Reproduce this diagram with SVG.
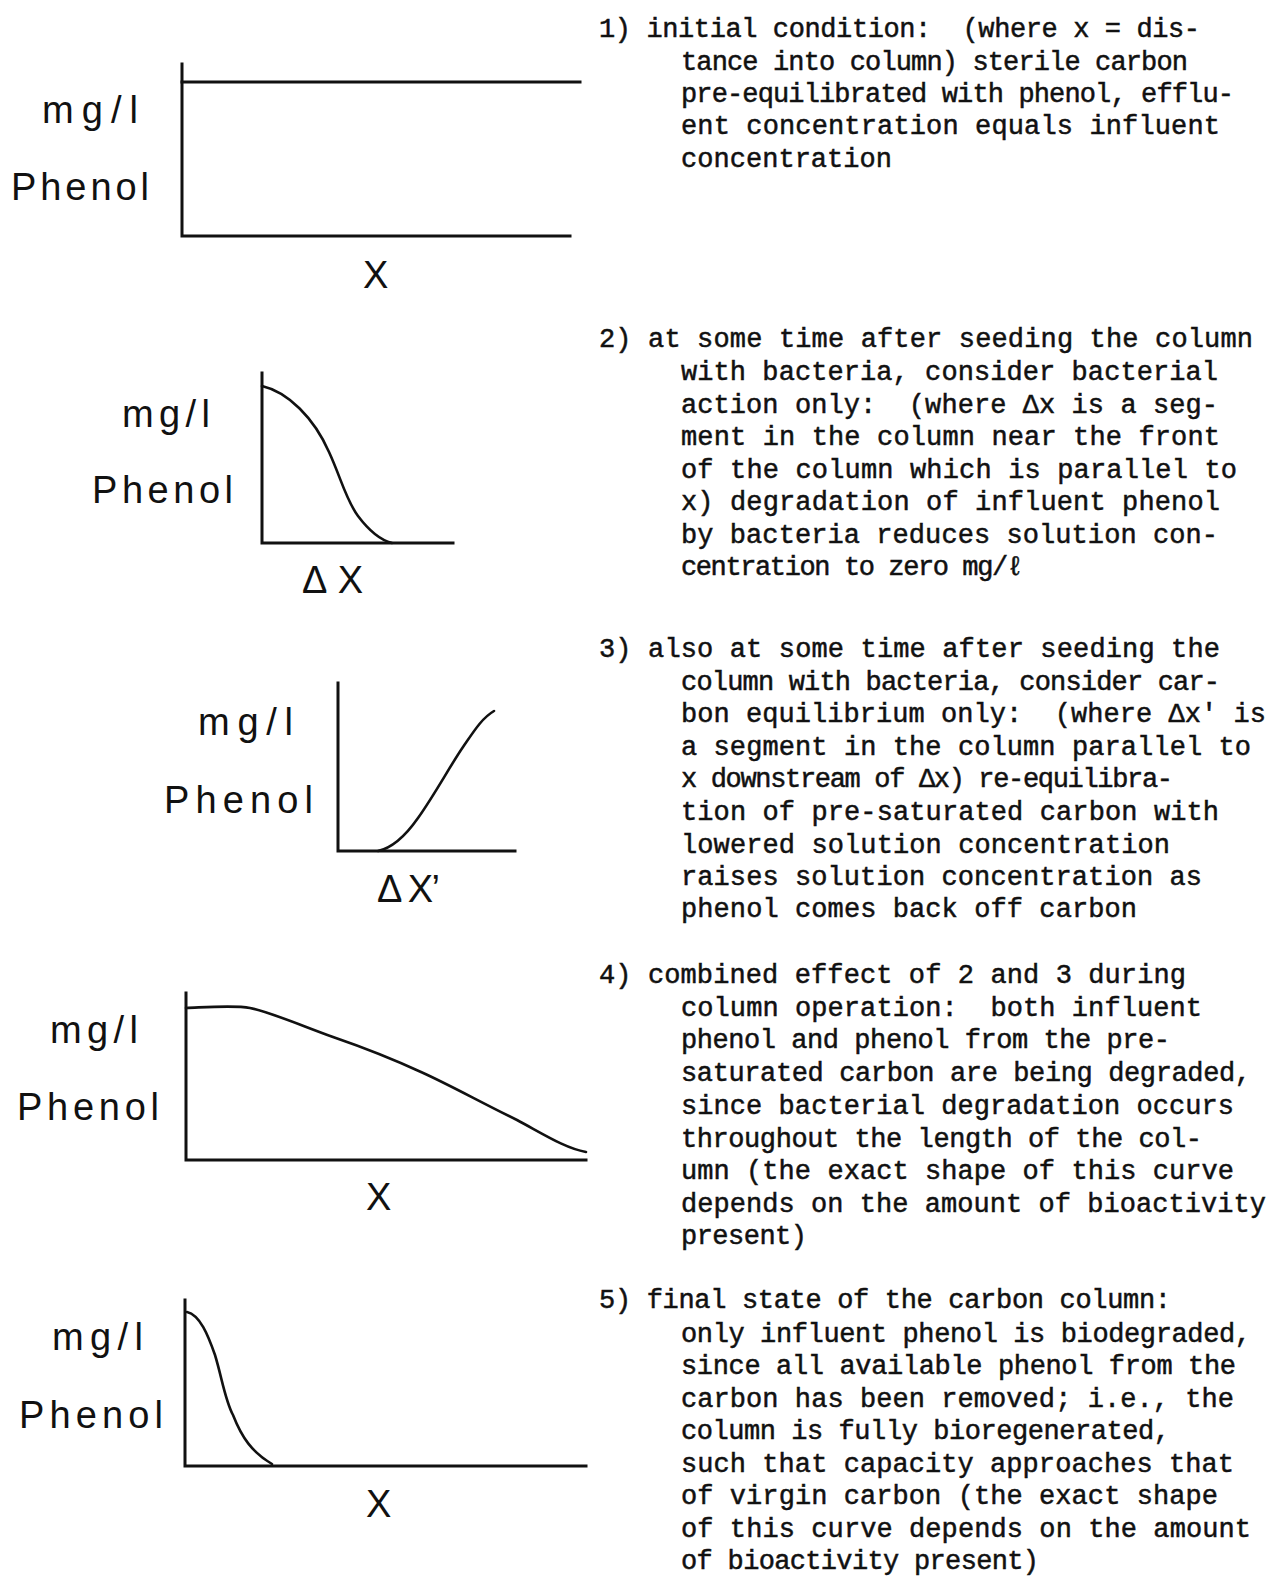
<svg xmlns="http://www.w3.org/2000/svg" width="1269" height="1576" viewBox="0 0 1269 1576">
<style>
.ax{fill:none;stroke:#111;stroke-width:3;stroke-linecap:square}
.cv{fill:none;stroke:#111;stroke-width:2.6;stroke-linecap:round}
.lb{font-family:"Liberation Sans",Arial,sans-serif;font-size:38px;fill:#111}
.tx{font-family:"Liberation Mono","Courier New","DejaVu Sans Mono",monospace;font-size:27px;fill:#111;stroke:#111;stroke-width:0.5;white-space:pre}
</style>
<rect width="1269" height="1576" fill="#fff"/>

<g id="graph1">
<path class="ax" d="M182,64 V236 H570"/>
<path class="ax" d="M182,82 H580"/>
<text class="lb" x="42" y="123" textLength="96" lengthAdjust="spacing">mg/l</text>
<text class="lb" x="11" y="200" textLength="138" lengthAdjust="spacing">Phenol</text>
<text class="lb" x="363" y="288">X</text>
</g>

<g id="graph2">
<path class="ax" d="M262,373 V543 H453"/>
<path class="cv" d="M262,386 C288,392 314,418 329,452 C341,478 346,500 358,516 C370,532 380,540 392,543"/>
<text class="lb" x="122" y="427" textLength="88" lengthAdjust="spacing">mg/l</text>
<text class="lb" x="92" y="503" textLength="141" lengthAdjust="spacing">Phenol</text>
<text class="lb" x="302" y="593" textLength="61" lengthAdjust="spacing">Δ X</text>
</g>

<g id="graph3">
<path class="ax" d="M338,683 V851 H515"/>
<path class="cv" d="M378,851 C392,848 404,838 418,818 C435,794 450,766 463,747 C474,731 482,718 494,711"/>
<text class="lb" x="198" y="735" textLength="95" lengthAdjust="spacing">mg/l</text>
<text class="lb" x="164" y="813" textLength="149" lengthAdjust="spacing">Phenol</text>
<text class="lb" x="377" y="902" textLength="63" lengthAdjust="spacing">Δ X’</text>
</g>

<g id="graph4">
<path class="ax" d="M186,993 V1160 H586"/>
<path class="cv" d="M186,1008 C210,1007 235,1005 250,1008 C270,1012 300,1025 333,1037 C365,1048 395,1060 421,1072 C450,1085 480,1102 517,1120 C545,1135 565,1148 586,1152"/>
<text class="lb" x="50" y="1043" textLength="88" lengthAdjust="spacing">mg/l</text>
<text class="lb" x="17" y="1120" textLength="142" lengthAdjust="spacing">Phenol</text>
<text class="lb" x="366" y="1210">X</text>
</g>

<g id="graph5">
<path class="ax" d="M185,1300 V1466 H586"/>
<path class="cv" d="M187,1312 C200,1315 208,1335 215,1355 C222,1378 225,1400 233,1415 C242,1438 252,1452 272,1464"/>
<text class="lb" x="52" y="1350" textLength="91" lengthAdjust="spacing">mg/l</text>
<text class="lb" x="19" y="1428" textLength="144" lengthAdjust="spacing">Phenol</text>
<text class="lb" x="366" y="1517">X</text>
</g>

<g id="note1" class="tx">
<text x="599" y="37" textLength="601" lengthAdjust="spacing" xml:space="preserve">1) initial condition:&#160; (where x = dis-</text>
<text x="681" y="70" textLength="507" lengthAdjust="spacing">tance into column) sterile carbon</text>
<text x="681" y="102" textLength="553" lengthAdjust="spacing">pre-equilibrated with phenol, efflu-</text>
<text x="681" y="134" textLength="539" lengthAdjust="spacing">ent concentration equals influent</text>
<text x="681" y="167" textLength="211" lengthAdjust="spacing">concentration</text>
</g>

<g id="note2" class="tx">
<text x="599" y="347" textLength="654" lengthAdjust="spacing">2) at some time after seeding the column</text>
<text x="681" y="380" textLength="537" lengthAdjust="spacing">with bacteria, consider bacterial</text>
<text x="681" y="413" textLength="537" lengthAdjust="spacing" xml:space="preserve">action only:&#160; (where Δx is a seg-</text>
<text x="681" y="445" textLength="539" lengthAdjust="spacing">ment in the column near the front</text>
<text x="681" y="478" textLength="556" lengthAdjust="spacing">of the column which is parallel to</text>
<text x="681" y="510" textLength="539" lengthAdjust="spacing">x) degradation of influent phenol</text>
<text x="681" y="543" textLength="537" lengthAdjust="spacing">by bacteria reduces solution con-</text>
<text x="681" y="575" textLength="342" lengthAdjust="spacing">centration to zero mg/ℓ</text>
</g>

<g id="note3" class="tx">
<text x="599" y="657" textLength="621" lengthAdjust="spacing">3) also at some time after seeding the</text>
<text x="681" y="690" textLength="539" lengthAdjust="spacing">column with bacteria, consider car-</text>
<text x="681" y="722" textLength="585" lengthAdjust="spacing" xml:space="preserve">bon equilibrium only:&#160; (where Δx' is</text>
<text x="681" y="755" textLength="570" lengthAdjust="spacing">a segment in the column parallel to</text>
<text x="681" y="787" textLength="492" lengthAdjust="spacing">x downstream of Δx) re-equilibra-</text>
<text x="681" y="820" textLength="538" lengthAdjust="spacing">tion of pre-saturated carbon with</text>
<text x="681" y="853" textLength="489" lengthAdjust="spacing">lowered solution concentration</text>
<text x="681" y="885" textLength="521" lengthAdjust="spacing">raises solution concentration as</text>
<text x="681" y="917" textLength="456" lengthAdjust="spacing">phenol comes back off carbon</text>
</g>

<g id="note4" class="tx">
<text x="599" y="983" textLength="587" lengthAdjust="spacing">4) combined effect of 2 and 3 during</text>
<text x="681" y="1016" textLength="521" lengthAdjust="spacing" xml:space="preserve">column operation:&#160; both influent</text>
<text x="681" y="1048" textLength="489" lengthAdjust="spacing">phenol and phenol from the pre-</text>
<text x="681" y="1081" textLength="570" lengthAdjust="spacing">saturated carbon are being degraded,</text>
<text x="681" y="1114" textLength="553" lengthAdjust="spacing">since bacterial degradation occurs</text>
<text x="681" y="1147" textLength="521" lengthAdjust="spacing">throughout the length of the col-</text>
<text x="681" y="1179" textLength="553" lengthAdjust="spacing">umn (the exact shape of this curve</text>
<text x="681" y="1212" textLength="585" lengthAdjust="spacing">depends on the amount of bioactivity</text>
<text x="681" y="1244" textLength="126" lengthAdjust="spacing">present)</text>
</g>

<g id="note5" class="tx">
<text x="599" y="1308" textLength="572" lengthAdjust="spacing">5) final state of the carbon column:</text>
<text x="681" y="1342" textLength="570" lengthAdjust="spacing">only influent phenol is biodegraded,</text>
<text x="681" y="1374" textLength="555" lengthAdjust="spacing">since all available phenol from the</text>
<text x="681" y="1407" textLength="553" lengthAdjust="spacing">carbon has been removed; i.e., the</text>
<text x="681" y="1439" textLength="489" lengthAdjust="spacing">column is fully bioregenerated,</text>
<text x="681" y="1472" textLength="553" lengthAdjust="spacing">such that capacity approaches that</text>
<text x="681" y="1504" textLength="537" lengthAdjust="spacing">of virgin carbon (the exact shape</text>
<text x="681" y="1537" textLength="570" lengthAdjust="spacing">of this curve depends on the amount</text>
<text x="681" y="1569" textLength="358" lengthAdjust="spacing">of bioactivity present)</text>
</g>
</svg>
